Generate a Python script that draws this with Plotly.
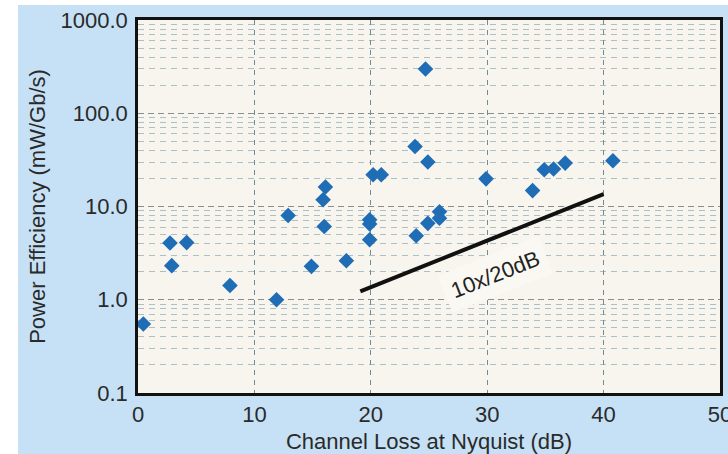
import math
import plotly.graph_objects as go

# Measured links: channel loss at Nyquist (dB) vs. power efficiency (mW/Gb/s)
loss_db = [0.46, 2.75, 2.9, 4.18, 7.9, 11.9, 12.9, 14.9, 16.0, 15.9, 16.1, 17.9,
           19.9, 19.9, 19.9, 20.2, 20.9, 23.9, 23.8, 24.9, 24.9, 24.7, 25.9, 25.9,
           29.9, 33.9, 34.9, 35.7, 36.7, 40.8]
efficiency = [0.55, 4.06, 2.32, 4.1, 1.42, 1.0, 8.0, 2.28, 6.1, 11.8, 16.2, 2.62,
              7.2, 6.5, 4.4, 21.9, 21.9, 4.86, 44.0, 30.0, 6.6, 298.0, 8.8, 7.5,
              19.8, 14.8, 24.8, 25.2, 29.2, 31.0]

# Reference slope: 10x per 20 dB
trend_x = [19.1, 40.0]
trend_y = [1.23, 13.6]
trend_label = "10x/20dB"
label_x, label_y = 30.7, 1.85

x_ticks = [0, 10, 20, 30, 40, 50]

W, H = 728, 454
M = dict(l=138, r=8, t=20, b=61)
plot_w = W - M["l"] - M["r"]
plot_h = H - M["t"] - M["b"]

FONT = "Arial, Liberation Sans, Helvetica, sans-serif"
FS = 22
TEXT = "#2a2a2a"
PANEL = "#c6e1f5"
PLOT_BG = "#f7f5ee"
MARKER = "#1e6db5"


def px_x(px):
    return (px - M["l"]) / plot_w


def px_y(py):
    return (H - M["b"] - py) / plot_h


fig = go.Figure()

fig.add_trace(go.Scatter(
    x=trend_x, y=trend_y, mode="lines",
    line=dict(color="#111111", width=4),
    hoverinfo="skip", showlegend=False,
))

fig.add_trace(go.Scatter(
    x=loss_db, y=efficiency, mode="markers",
    marker=dict(symbol="diamond", size=12, color=MARKER, line=dict(width=0)),
    showlegend=False,
))

fig.add_annotation(
    x=label_x, y=math.log10(label_y), xref="x", yref="y",
    text=trend_label, showarrow=False, textangle=-21.5,
    font=dict(family=FONT, size=FS, color="#222222"),
    bgcolor="#f9f8f2", borderpad=7,
)

# white page strips around the light-blue panel
fig.add_shape(type="rect", xref="paper", yref="paper", layer="above",
              x0=px_x(0), x1=px_x(18), y0=px_y(H), y1=px_y(0),
              fillcolor="white", line=dict(width=0))
fig.add_shape(type="rect", xref="paper", yref="paper", layer="above",
              x0=px_x(0), x1=px_x(W), y0=px_y(5), y1=px_y(0),
              fillcolor="white", line=dict(width=0))

fig.update_layout(
    width=W, height=H,
    margin=dict(l=M["l"], r=M["r"], t=M["t"], b=M["b"], pad=0),
    paper_bgcolor=PANEL,
    plot_bgcolor=PLOT_BG,
    font=dict(family=FONT, size=FS, color=TEXT),
    showlegend=False,
    xaxis=dict(
        range=[0, 50], tickvals=x_ticks, automargin=False,
        ticklabeloverflow="allow",
        showgrid=True, gridcolor="#6f8c95", gridwidth=1.4, griddash="5px,5px",
        zeroline=False,
        showline=True, mirror=True, linecolor="#111111", linewidth=2.5,
        ticks="", ticklabelstandoff=0,
        tickfont=dict(size=FS, color=TEXT),
        title=dict(text="Channel Loss at Nyquist (dB)", font=dict(size=FS, color=TEXT), standoff=14),
    ),
    yaxis=dict(
        type="log", range=[-1, 3], dtick=1, tickformat=".1f", automargin=False,
        ticklabeloverflow="allow",
        showgrid=True, gridcolor="#868e8f", gridwidth=1.4, griddash="6px,4px",
        minor=dict(dtick="D1", showgrid=True, gridcolor="#aabfc6",
                   gridwidth=1, griddash="6px,5px", ticks=""),
        zeroline=False,
        showline=True, mirror=True, linecolor="#111111", linewidth=2.5,
        ticks="", ticklabelstandoff=3,
        tickfont=dict(size=FS, color=TEXT),
        title=dict(text="Power Efficiency (mW/Gb/s)", font=dict(size=FS, color=TEXT), standoff=9),
    ),
)

fig.write_html("out.html")
